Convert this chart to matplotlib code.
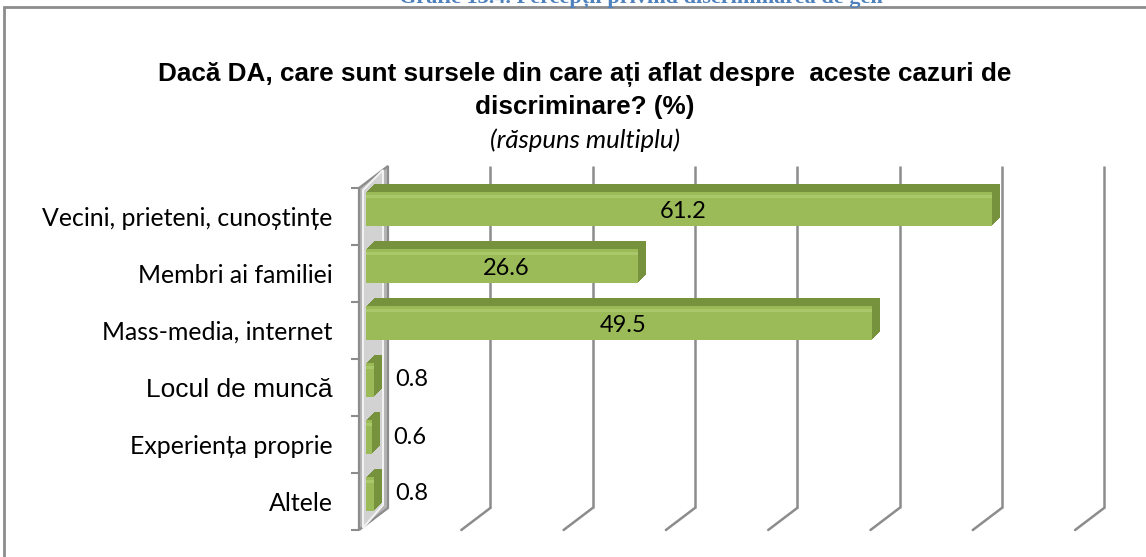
import matplotlib
matplotlib.use('Agg')
import matplotlib.pyplot as plt
import matplotlib.transforms as mtransforms
from matplotlib.patches import Polygon, Rectangle
import numpy as np

categories = ['Vecini, prieteni, cunoștințe', 'Membri ai familiei', 'Mass-media, internet',
              'Locul de muncă', 'Experiența proprie', 'Altele']
values = [61.2, 26.6, 49.5, 0.8, 0.6, 0.8]
value_labels = ['61.2', '26.6', '49.5', '0.8', '0.6', '0.8']
grid_values = [10, 20, 30, 40, 50, 60, 70]
x_max = 70

title_line1 = 'Dacă DA, care sunt sursele din care ați aflat despre  aceste cazuri de'
title_line2 = 'discriminare? (%)'
title_sub = '(răspuns multiplu)'
doc_caption = 'Grafic 13.4. Percepții privind discriminarea de gen'

W, H = 1146, 557
DPI = 100
fig = plt.figure(figsize=(W / DPI, H / DPI), dpi=DPI)
fig.patch.set_facecolor('white')

# front plane of the 3D box (pixels)
x0_px, y_top_px, y_bot_px = 359, 188, 530
px_per_unit = 10.23
ax = fig.add_axes([x0_px / W, (H - y_bot_px) / H, x_max * px_per_unit / W, (y_bot_px - y_top_px) / H])
n = len(categories)
ax.set_xlim(0, x_max)
ax.set_ylim(n - 0.5, -0.5)
ax.patch.set_visible(False)
for s in ax.spines.values():
    s.set_visible(False)


def off(dx, dy):
    return ax.transData + mtransforms.ScaledTranslation(dx / DPI, dy / DPI, fig.dpi_scale_trans)


DEPTH = (29, 22)
grid_col = '#8c8c8c'

# back-wall gridlines and floor diagonals
for gv in grid_values:
    ax.plot([gv, gv], [-0.5, n - 0.5], transform=off(*DEPTH), color=grid_col, lw=1.8,
            clip_on=False, zorder=1, solid_capstyle='butt')
    ax.annotate('', xy=(gv, n - 0.5), xycoords=off(*DEPTH), xytext=(gv, n - 0.5), textcoords='data',
                arrowprops=dict(arrowstyle='-', color=grid_col, lw=1.8, shrinkA=0, shrinkB=0),
                annotation_clip=False, zorder=1)

# left wall (slab)
fr_top = ax.transData.transform((0, -0.5))
fr_bot = ax.transData.transform((0, n - 0.5))
bk_top = off(*DEPTH).transform((0, -0.5))
bk_bot = off(*DEPTH).transform((0, n - 0.5))
ident = mtransforms.IdentityTransform()
wall = Polygon([fr_bot, fr_top, bk_top, bk_bot], closed=True, transform=ident,
               facecolor='#b4b4b4', edgecolor='#8c8c8c', lw=1.6, zorder=2, clip_on=False)
ax.add_patch(wall)
inner = Polygon([fr_bot + [4, 2], fr_top + [4, -2], bk_top + [-5, -4], bk_bot + [-5, 3]], closed=True,
                transform=ident, facecolor='#d2d2d2', edgecolor='#f4f4f4', lw=1.4, zorder=2, clip_on=False)
ax.add_patch(inner)

# bars: extruded 3D boxes
y = np.arange(n)
bar_h = 0.58
front_off = (7, 7.5)
for k in range(8, 0, -1):
    ax.barh(y, values, height=bar_h, color='#76923c', transform=off(front_off[0] + k, front_off[1] + k),
            zorder=3, clip_on=False)
ax.barh(y, values, height=bar_h, color='#9bbb59', transform=off(*front_off), zorder=4, clip_on=False)
# highlight strip near the top of the front face
ax.barh(y - bar_h * 0.37, values, height=bar_h * 0.1, color='#a9c86a', transform=off(*front_off),
        zorder=5, clip_on=False)

# value labels
for i, (v, lab) in enumerate(zip(values, value_labels)):
    if v > 5:
        ax.annotate(lab, xy=(v / 2, i), xycoords=off(*front_off), xytext=(3, -1.5), textcoords='offset points',
                    ha='center', va='center', fontsize=17, family='Lato', color='black', zorder=6)
    else:
        ax.annotate(lab, xy=(v, i), xycoords=off(*front_off), xytext=(15, 0), textcoords='offset points',
                    ha='left', va='center', fontsize=17, family='Lato', color='black', zorder=6)

# category ticks and labels
ax.set_yticks(y)
ax.set_yticklabels(categories)
ax.set_yticks(np.arange(-0.5, n, 1), minor=True)
ax.tick_params(axis='y', which='major', length=0, pad=19)
ax.tick_params(axis='y', which='minor', length=6, width=1.5, color='#8c8c8c')
ax.set_xticks([])
for lbl in ax.get_yticklabels():
    if lbl.get_text() == 'Locul de muncă':
        lbl.set_fontfamily('Liberation Sans')
        lbl.set_fontsize(19)
    else:
        lbl.set_fontfamily('Lato')
        lbl.set_fontsize(17.9)

# titles
fig.text(585 / W, 1 - 75 / H, title_line1, ha='center', va='center', fontsize=18.8, fontweight='bold',
         family='Liberation Sans')
fig.text(585 / W, 1 - 107 / H, title_line2, ha='center', va='center', fontsize=18.8, fontweight='bold',
         family='Liberation Sans')
fig.text(585 / W, 1 - 140 / H, title_sub, ha='center', va='center', fontsize=18.5, style='italic',
         family='Lato')

# document caption (clipped at top, as in the source page)
fig.text(641 / W, 1 - 3 / H, doc_caption, ha='center', va='baseline', fontsize=16, fontweight='bold',
         family='Liberation Serif', color='#4f81bd')

# outer chart border
border = Rectangle((4 / W, -0.1), 1.2, 1 - 7 / H + 0.1, transform=fig.transFigure, fill=False,
                   edgecolor='#8c8c8c', lw=2, zorder=0)
fig.patches.append(border)

fig.savefig('out.png', dpi=DPI)
